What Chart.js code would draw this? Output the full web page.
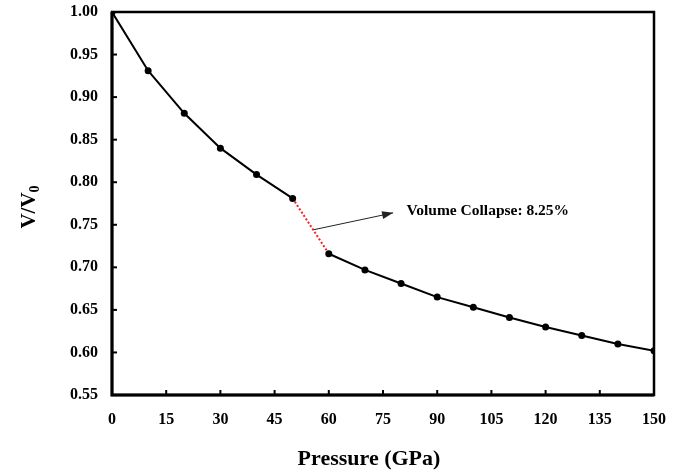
<!DOCTYPE html>
<html>
<head>
<meta charset="utf-8">
<script src="https://cdn.jsdelivr.net/npm/chart.js@4"></script>
<style>
  html, body { margin: 0; padding: 0; background: #fff; }
  #wrap { width: 684px; height: 475px; }
</style>
</head>
<body>
<div id="wrap"><canvas id="c" width="684" height="475"></canvas></div>
<script>
'use strict';

const pressure = [0, 10, 20, 30, 40, 50, 60, 70, 80, 90, 100, 110, 120, 130, 140, 150];
const volRatio = [1.000, 0.931, 0.881, 0.840, 0.809, 0.781, 0.716, 0.697, 0.681, 0.665, 0.653, 0.641, 0.630, 0.620, 0.610, 0.602];
const collapseFrom = 50;          // dotted red segment starts here
const arrowX = [55.6, 77.8];
const arrowY = [0.744, 0.764];
const noteText = 'Volume Collapse: 8.25%';
const noteAt = { x: 81.5, y: 0.766 };
const xTitle = 'Pressure (GPa)';

const FONT = "'Liberation Serif', 'Times New Roman', serif";

const frame = {
    id: 'frame',
    afterDraw(chart) {
        const { ctx, chartArea: a, scales: { x, y } } = chart;
        ctx.save();
        // inward ticks
        ctx.strokeStyle = '#000';
        ctx.lineWidth = 2;
        x.ticks.forEach(t => {
            const px = x.getPixelForValue(t.value);
            ctx.beginPath(); ctx.moveTo(px, a.bottom); ctx.lineTo(px, a.bottom - 5); ctx.stroke();
        });
        y.ticks.forEach(t => {
            const py = y.getPixelForValue(t.value);
            ctx.beginPath(); ctx.moveTo(a.left, py); ctx.lineTo(a.left + 5, py); ctx.stroke();
        });
        // box
        ctx.lineWidth = 2.5;
        ctx.strokeRect(a.left, a.top, a.right - a.left, a.bottom - a.top);
        ctx.lineWidth = 3;
        ctx.beginPath();
        ctx.moveTo(a.left, a.top); ctx.lineTo(a.left, a.bottom); ctx.lineTo(a.right, a.bottom);
        ctx.stroke();

        // arrow head
        const x0 = x.getPixelForValue(arrowX[0]), y0 = y.getPixelForValue(arrowY[0]);
        const x1 = x.getPixelForValue(arrowX[1]), y1 = y.getPixelForValue(arrowY[1]);
        const ang = Math.atan2(y1 - y0, x1 - x0);
        ctx.fillStyle = '#222';
        ctx.beginPath();
        ctx.moveTo(x1, y1);
        ctx.lineTo(x1 - 11 * Math.cos(ang) + 4 * Math.sin(ang), y1 - 11 * Math.sin(ang) - 4 * Math.cos(ang));
        ctx.lineTo(x1 - 11 * Math.cos(ang) - 4 * Math.sin(ang), y1 - 11 * Math.sin(ang) + 4 * Math.cos(ang));
        ctx.closePath();
        ctx.fill();

        // note
        ctx.fillStyle = '#000';
        ctx.font = 'bold 15.5px ' + FONT;
        ctx.textBaseline = 'middle';
        ctx.textAlign = 'left';
        ctx.fillText(noteText, x.getPixelForValue(noteAt.x), y.getPixelForValue(noteAt.y));

        // x title (sits a little left of the plot centre in the original)
        ctx.font = 'bold 22px ' + FONT;
        ctx.textAlign = 'center';
        ctx.fillText(xTitle, 369, 459);

        // y title with subscript
        ctx.textAlign = 'left';
        ctx.translate(28, 207);
        ctx.rotate(-Math.PI / 2);
        ctx.textBaseline = 'alphabetic';
        const main = 'V/V';
        ctx.font = 'bold 21px ' + FONT;
        const w1 = ctx.measureText(main).width;
        ctx.font = 'bold 14px ' + FONT;
        const w2 = ctx.measureText('0').width;
        const start = -(w1 + w2) / 2;
        ctx.font = 'bold 21px ' + FONT;
        ctx.fillText(main, start, 7);
        ctx.font = 'bold 14px ' + FONT;
        ctx.fillText('0', start + w1, 11);
        ctx.restore();
    }
};

new Chart(document.getElementById('c'), {
    type: 'line',
    data: {
        datasets: [
            {
                data: pressure.map((p, i) => ({ x: p, y: volRatio[i] })),
                borderColor: '#000',
                backgroundColor: '#000',
                borderWidth: 2,
                pointRadius: 3.5,
                pointBackgroundColor: '#000',
                pointBorderWidth: 0,
                tension: 0,
                segment: {
                    borderColor: c => c.p0.parsed.x === collapseFrom ? '#ff1a1a' : '#000',
                    borderDash: c => c.p0.parsed.x === collapseFrom ? [2, 2] : undefined,
                },
            },
            {
                data: arrowX.map((v, i) => ({ x: v, y: arrowY[i] })),
                borderColor: '#222',
                borderWidth: 1,
                pointRadius: 0,
            },
        ]
    },
    options: {
        responsive: false,
        animation: false,
        events: [],
        layout: { padding: { top: 12, right: 30, left: 0, bottom: 0 } },
        plugins: { legend: { display: false }, tooltip: { enabled: false } },
        scales: {
            x: {
                type: 'linear', min: 0, max: 150,
                afterFit: s => { s.height = 80; s.paddingLeft = 0; s.paddingRight = 0; },
                grid: { display: false, drawTicks: false },
                border: { display: false },
                ticks: { stepSize: 15, padding: 15, color: '#000', font: { family: FONT, weight: 'bold', size: 16 } },
            },
            y: {
                min: 0.55, max: 1.0,
                afterFit: s => { s.width = 112; s.paddingTop = 0; s.paddingBottom = 0; },
                grid: { display: false, drawTicks: false },
                border: { display: false },
                ticks: { stepSize: 0.05, padding: 14, color: '#000', callback: v => v.toFixed(2),
                         font: { family: FONT, weight: 'bold', size: 16 } },
            }
        }
    },
    plugins: [frame]
});
</script>
</body>
</html>
